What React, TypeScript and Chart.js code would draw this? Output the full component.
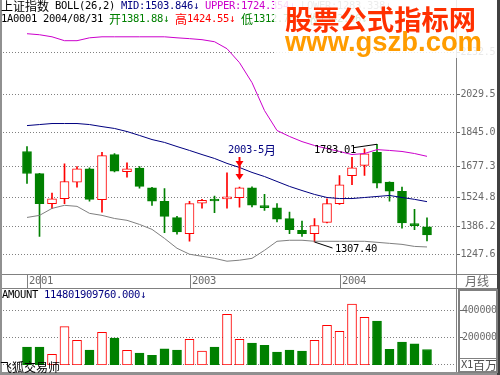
import React, { useEffect, useRef } from 'react';
import { Chart, registerables } from 'chart.js';

Chart.register(...registerables);

// ---------------- data ----------------
const months = [
  '2001-12',
  '2002-01', '2002-02', '2002-03', '2002-04', '2002-05', '2002-06', '2002-07', '2002-08', '2002-09', '2002-10', '2002-11', '2002-12',
  '2003-01', '2003-02', '2003-03', '2003-04', '2003-05', '2003-06', '2003-07', '2003-08', '2003-09', '2003-10', '2003-11', '2003-12',
  '2004-01', '2004-02', '2004-03', '2004-04', '2004-05', '2004-06', '2004-07', '2004-08',
];
const opens = [1748, 1640, 1494, 1518, 1599, 1664, 1513, 1733, 1650, 1667, 1571, 1505, 1426, 1348, 1497, 1510, 1517, 1523, 1571, 1478, 1474, 1421, 1364, 1348, 1403, 1494, 1630, 1680, 1744, 1599, 1554, 1390, 1381.88];
const highs = [1772, 1642, 1545, 1688, 1675, 1669, 1744, 1738, 1693, 1675, 1573, 1567, 1432, 1505, 1515, 1531, 1644, 1575, 1576, 1539, 1494, 1453, 1409, 1421, 1518, 1631, 1720, 1761, 1783.01, 1600, 1575, 1466, 1424.55];
const lows = [1592, 1335, 1470, 1494, 1574, 1506, 1453, 1648, 1623, 1570, 1486, 1353, 1345, 1311, 1472, 1450, 1472, 1477, 1478, 1461, 1405, 1348, 1335, 1307.4, 1400, 1490, 1586, 1631, 1571, 1506, 1375, 1368, 1312.78];
const closes = [1641, 1494, 1518, 1602, 1664, 1515, 1728, 1652, 1664, 1578, 1506, 1432, 1356, 1494, 1510, 1507, 1520, 1571, 1487, 1475, 1419, 1367, 1348, 1388, 1494, 1586, 1669, 1737, 1594, 1555, 1400, 1387, 1342.06];
// amount in millions (X1百万)
const amounts = [133000, 133000, 79000, 284000, 183000, 111000, 242000, 200000, 109000, 89000, 72000, 119000, 111000, 190000, 104000, 133000, 375000, 190000, 163000, 146000, 96000, 111000, 104000, 183000, 294000, 249000, 452000, 353000, 326000, 116000, 170000, 156000, 114801.90976];
const upper = [2321, 2316, 2306, 2287, 2287, 2301, 2306, 2306, 2306, 2306, 2306, 2306, 2301, 2297, 2292, 2282, 2248, 2180, 2083, 1947, 1850, 1821, 1796, 1777, 1762, 1748, 1733, 1738, 1757, 1753, 1748, 1738, 1724.354];
const mid = [1874, 1879, 1884, 1884, 1884, 1879, 1869, 1860, 1845, 1826, 1806, 1792, 1772, 1753, 1733, 1714, 1690, 1670, 1646, 1626, 1602, 1578, 1558, 1539, 1524, 1519, 1519, 1524, 1529, 1534, 1524, 1515, 1503.846];
const lower = [1427, 1437, 1471, 1486, 1481, 1447, 1437, 1422, 1413, 1393, 1369, 1325, 1277, 1248, 1238, 1228, 1214, 1219, 1228, 1267, 1311, 1316, 1316, 1311, 1311, 1311, 1311, 1311, 1306, 1301, 1296, 1286, 1283.338];

const priceTicks = [1247.6, 1386.2, 1524.8, 1677.3, 1845.0, 2029.5, 2232.5];
const amountTicks = [200000, 400000];
const yearIdx = [0, 1, 13, 25];
const yearLabels = ['2001', '', '2003', '2004'];
const noteIdx = 17;
const noteText = '2003-5月';

// ---------------- style ----------------
const GREEN = '#008000';
const RED = '#ff0000';
const NAVY = '#000080';
const MAGENTA = '#cc00cc';
const GRAY = '#808080';
const LABEL = '#6a6a6a';
const LATIN = "10.5px 'DejaVu Sans Mono', monospace";
const CJK = "12px 'Noto Sans CJK SC', sans-serif";

const isUp = (i: number) => closes[i] >= opens[i];

function isCJK(ch: string) {
  return /[\u2E80-\u9FFF\uF900-\uFAFF\uFF00-\uFFEF]/.test(ch);
}

function drawRun(ctx: CanvasRenderingContext2D, x: number, y: number, segs: [string, string][], lw = 6, cw = 12, lf = LATIN, cf = CJK) {
  ctx.textBaseline = 'middle';
  ctx.textAlign = 'left';
  let cx = x;
  for (const [text, color] of segs) {
    ctx.fillStyle = color;
    for (const ch of Array.from(text)) {
      const c = isCJK(ch);
      ctx.font = c ? cf : lf;
      if (ch !== ' ') ctx.fillText(ch, cx, y);
      cx += c ? cw : lw;
    }
  }
  return cx;
}

function hline(ctx: CanvasRenderingContext2D, x1: number, x2: number, y: number) {
  ctx.beginPath();
  ctx.moveTo(x1, y);
  ctx.lineTo(x2, y);
  ctx.stroke();
}

function fitText(ctx: CanvasRenderingContext2D, text: string, x: number, y: number, width: number) {
  const w = ctx.measureText(text).width;
  ctx.save();
  ctx.translate(x, y);
  ctx.scale(width / w, 1);
  ctx.fillText(text, 0, 0);
  ctx.restore();
}

const decor = {
  id: 'decor',
  beforeDraw(chart: any) {
    const ctx = chart.ctx as CanvasRenderingContext2D;
    ctx.save();
    ctx.fillStyle = '#ffffff';
    ctx.fillRect(0, 0, chart.width, chart.height);
    ctx.restore();
  },
  beforeDatasetsDraw(chart: any) {
    const ctx = chart.ctx as CanvasRenderingContext2D;
    const y = chart.scales.y;
    const yv = chart.scales.yv;
    ctx.save();
    ctx.strokeStyle = GRAY;
    ctx.lineWidth = 1;
    ctx.setLineDash([1, 2]);
    for (const t of priceTicks) {
      const py = Math.round(y.getPixelForValue(t)) + 0.5;
      hline(ctx, 3, 456, py);
    }
    for (const t of [0, ...amountTicks]) {
      const py = Math.round(yv.getPixelForValue(t)) - 0.5;
      hline(ctx, 3, 456, py);
    }
    ctx.restore();
  },
  afterDraw(chart: any) {
    const ctx = chart.ctx as CanvasRenderingContext2D;
    const x = chart.scales.x;
    const y = chart.scales.y;
    const yv = chart.scales.yv;
    const last = months.length - 1;
    ctx.save();

    // frame
    ctx.fillStyle = GRAY;
    ctx.fillRect(456, 0, 1, 372);
    ctx.fillRect(0, 274, 497, 1);
    ctx.fillRect(0, 288, 497, 1);
    ctx.fillStyle = '#909090';
    ctx.fillRect(0, 0, 2, 375);
    ctx.fillRect(0, 372, 500, 3);
    ctx.fillStyle = '#404040';
    ctx.fillRect(497, 0, 3, 375);
    ctx.strokeStyle = GRAY;
    ctx.lineWidth = 2;
    ctx.strokeRect(459, 290, 38, 82);
    ctx.fillStyle = GRAY;
    ctx.fillRect(459, 358, 38, 1);

    // time axis row
    for (let k = 0; k < yearIdx.length; k++) {
      const px = Math.round(x.getPixelForValue(yearIdx[k]));
      if (yearLabels[k]) drawRun(ctx, px + 2, 281.5, [[yearLabels[k], LABEL]], 6);
    }
    ctx.fillStyle = GRAY;
    for (let k = 0; k < yearIdx.length; k++) {
      const px = Math.round(x.getPixelForValue(yearIdx[k]));
      ctx.fillRect(px, 275, 1, 13);
    }
    drawRun(ctx, 465, 281.5, [['月线', LABEL]]);

    // price axis labels
    ctx.fillStyle = LABEL;
    for (const t of priceTicks) {
      const py = Math.round(y.getPixelForValue(t));
      ctx.fillStyle = LABEL;
      ctx.fillRect(457, py, 3, 1);
      drawRun(ctx, 460.5, py + 0.5, [[t.toFixed(1), LABEL]], 5.8, 12, "10px 'DejaVu Sans Mono', monospace");
    }
    for (const t of amountTicks) {
      const py = Math.round(yv.getPixelForValue(t)) - 1;
      ctx.fillStyle = LABEL;
      ctx.fillRect(460, py, 3, 1);
      drawRun(ctx, 462, py + 0.5, [[String(t), LABEL]], 5.8, 12, "10px 'DejaVu Sans Mono', monospace");
    }
    drawRun(ctx, 461, 365, [['X1', '#505050'], ['百万', '#505050']], 6, 12);

    // header
    drawRun(ctx, 1, 6.5, [
      ['上证指数 BOLL(26,2) ', '#000000'],
      ['MID:' + mid[last].toFixed(3) + '↓ ', NAVY],
      ['UPPER:' + upper[last].toFixed(3) + '↓ ', MAGENTA],
      ['LOWER:' + lower[last].toFixed(3) + '↓', GRAY],
    ]);
    drawRun(ctx, 1, 19.5, [
      ['1A0001 2004/08/31 ', '#000000'],
      ['开' + opens[last].toFixed(2) + '↓ ', GREEN],
      ['高' + highs[last].toFixed(2) + '↓ ', RED],
      ['低' + lows[last].toFixed(2) + '↓ ', GREEN],
      ['收' + closes[last].toFixed(2) + '↓', GREEN],
    ]);

    // volume title
    drawRun(ctx, 2, 295.5, [
      ['AMOUNT ', '#000000'],
      [Math.round(amounts[last] * 1e6).toFixed(3) + '↓', NAVY],
    ]);

    // annotations
    const nx = x.getPixelForValue(noteIdx);
    const nh = y.getPixelForValue(highs[noteIdx]);
    drawRun(ctx, Math.round(nx) - 12, Math.round(nh) - 37, [[noteText, NAVY]]);
    ctx.fillStyle = RED;
    ctx.strokeStyle = RED;
    ctx.lineWidth = 2;
    ctx.beginPath();
    ctx.moveTo(nx, nh - 30);
    ctx.lineTo(nx, nh - 10);
    ctx.stroke();
    for (const tip of [nh - 20, nh - 7]) {
      ctx.beginPath();
      ctx.moveTo(nx - 4, tip - 6);
      ctx.lineTo(nx + 4, tip - 6);
      ctx.lineTo(nx, tip);
      ctx.closePath();
      ctx.fill();
    }

    let maxI = 0;
    let minI = 0;
    for (let i = 0; i < highs.length; i++) {
      if (highs[i] > highs[maxI]) maxI = i;
      if (lows[i] < lows[minI]) minI = i;
    }
    const hx = x.getPixelForValue(maxI);
    const hy = y.getPixelForValue(highs[maxI]);
    ctx.strokeStyle = '#000000';
    ctx.lineWidth = 1;
    ctx.beginPath();
    ctx.moveTo(hx - 24, hy + 3.5);
    ctx.lineTo(hx, hy);
    ctx.stroke();
    drawRun(ctx, Math.round(hx) - 63, Math.round(hy) + 6, [[highs[maxI].toFixed(2), '#000000']]);

    const lx = x.getPixelForValue(minI);
    const ly = y.getPixelForValue(lows[minI]);
    ctx.beginPath();
    ctx.moveTo(lx, ly);
    ctx.lineTo(lx + 18, ly + 6);
    ctx.stroke();
    drawRun(ctx, Math.round(lx) + 20, Math.round(ly) + 7, [[lows[minI].toFixed(2), '#000000']]);

    // bottom-left brand
    drawRun(ctx, 0, 367, [['飞狐交易师', '#000000']]);

    // watermark
    ctx.fillStyle = 'rgba(255,255,255,0.85)';
    ctx.fillRect(274, 0, 223, 58);
    ctx.textBaseline = 'middle';
    ctx.textAlign = 'left';
    ctx.fillStyle = '#ff3000';
    ctx.font = "bold 27px 'Noto Sans CJK SC', sans-serif";
    fitText(ctx, '股票公式指标网', 285, 20, 191);
    ctx.textBaseline = 'alphabetic';
    ctx.fillStyle = '#ff9c00';
    ctx.font = "bold 27px 'Liberation Sans', Arial, sans-serif";
    fitText(ctx, 'www.gszb.com', 285, 51, 197);

    ctx.restore();
  },
};

export default function App() {
  const ref = useRef<HTMLCanvasElement | null>(null);
  useEffect(() => {
    document.body.style.margin = '0';
    const canvas = ref.current;
    if (!canvas) return;
    const chart = new Chart(canvas, {
      type: 'bar',
      data: {
        labels: months,
        datasets: [
          {
            type: 'line',
            label: 'UPPER',
            data: upper,
            yAxisID: 'y',
            borderColor: MAGENTA,
            borderWidth: 1,
            pointRadius: 0,
            tension: 0,
            fill: false,
            order: 0,
          } as any,
          {
            type: 'line',
            label: 'MID',
            data: mid,
            yAxisID: 'y',
            borderColor: NAVY,
            borderWidth: 1,
            pointRadius: 0,
            tension: 0,
            fill: false,
            order: 0,
          } as any,
          {
            type: 'line',
            label: 'LOWER',
            data: lower,
            yAxisID: 'y',
            borderColor: GRAY,
            borderWidth: 1,
            pointRadius: 0,
            tension: 0,
            fill: false,
            order: 0,
          } as any,
          {
            label: 'body',
            data: opens.map((o, i) => [o, closes[i]]),
            yAxisID: 'y',
            backgroundColor: opens.map((_, i) => (isUp(i) ? '#ffffff' : GREEN)),
            borderColor: opens.map((_, i) => (isUp(i) ? RED : GREEN)),
            borderWidth: 1,
            borderSkipped: false,
            barThickness: 9,
            minBarLength: 2,
            grouped: false,
            order: 1,
          } as any,
          {
            label: 'wick',
            data: lows.map((l, i) => [l, highs[i]]),
            yAxisID: 'y',
            backgroundColor: opens.map((_, i) => (isUp(i) ? RED : GREEN)),
            borderWidth: 0,
            barThickness: 1,
            grouped: false,
            order: 2,
          } as any,
          {
            label: 'amount',
            data: amounts,
            yAxisID: 'yv',
            backgroundColor: amounts.map((_, i) => (isUp(i) ? '#ffffff' : GREEN)),
            borderColor: amounts.map((_, i) => (isUp(i) ? RED : GREEN)),
            borderWidth: 1,
            borderSkipped: false,
            barThickness: 9,
            grouped: false,
            order: 3,
          } as any,
        ],
      },
      options: {
        responsive: false,
        maintainAspectRatio: false,
        animation: false,
        devicePixelRatio: 1,
        events: [],
        layout: { padding: { left: 20.75, right: 66.75, top: 13, bottom: 10 } },
        plugins: { legend: { display: false }, tooltip: { enabled: false } },
        scales: {
          x: { type: 'category', offset: true, display: false },
          y: { type: 'linear', min: 709.0, max: 2421.8, display: false },
          yv: { type: 'linear', min: 0, max: 2607400, display: false },
        },
      },
      plugins: [decor],
    } as any);
    return () => chart.destroy();
  }, []);
  return (
    <canvas
      ref={ref}
      width={500}
      height={375}
      style={{ position: 'fixed', left: 0, top: 0, width: 500, height: 375, display: 'block' }}
    />
  );
}
